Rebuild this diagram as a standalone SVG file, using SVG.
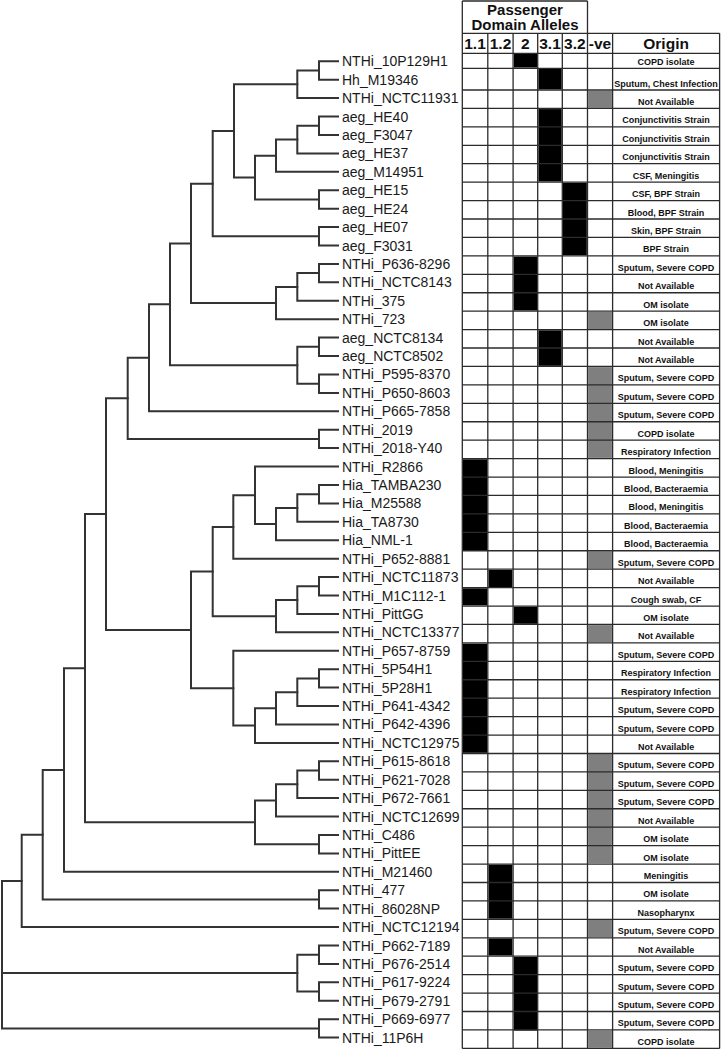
<svg xmlns="http://www.w3.org/2000/svg" width="724" height="1049" viewBox="0 0 724 1049">
<style>
.br{fill:none;stroke:#333;stroke-width:2;stroke-linecap:square;stroke-linejoin:miter}
.lb{font-family:"Liberation Sans",Arial,sans-serif;font-size:14px;fill:#1a1a1a}
.og{font-family:"Liberation Sans",Arial,sans-serif;font-size:9px;font-weight:bold;fill:#111;text-anchor:middle}
.hd{font-family:"Liberation Sans",Arial,sans-serif;font-size:15px;font-weight:bold;fill:#111;text-anchor:middle}
.ch{font-family:"Liberation Sans",Arial,sans-serif;font-size:15.5px;font-weight:bold;fill:#111;text-anchor:middle}
.gl{fill:none;stroke:#2b2b2b;stroke-width:1.3}
.k{fill:#000}
.g{fill:#7f7f7f}
</style>
<rect width="724" height="1049" fill="#fff"/>
<g id="connectors">
<path class="br" d="M338 61.3 H319 V79.7 H338"/>
<path class="br" d="M319 70.5 H297.3 V98.1 H338"/>
<path class="br" d="M338 116.6 H319 V135 H338"/>
<path class="br" d="M319 125.8 H297.3 V153.4 H338"/>
<path class="br" d="M297.3 139.6 H276 V171.8 H338"/>
<path class="br" d="M338 190.2 H319 V208.7 H338"/>
<path class="br" d="M276 155.7 H255 V199.45 H319"/>
<path class="br" d="M297.3 84.3 H234 V177.6 H255"/>
<path class="br" d="M338 227.1 H319 V245.5 H338"/>
<path class="br" d="M234 131 H212.7 V236.3 H319"/>
<path class="br" d="M338 263.9 H319 V282.3 H338"/>
<path class="br" d="M319 273.1 H297.3 V300.8 H338"/>
<path class="br" d="M297.3 286.95 H276 V319.2 H338"/>
<path class="br" d="M212.7 183.65 H191 V303.1 H276"/>
<path class="br" d="M338 337.6 H319 V356 H338"/>
<path class="br" d="M338 374.4 H319 V392.9 H338"/>
<path class="br" d="M319 346.8 H297.3 V383.65 H319"/>
<path class="br" d="M191 243.4 H170 V365.2 H297.3"/>
<path class="br" d="M170 304.3 H149 V411.3 H338"/>
<path class="br" d="M338 429.7 H319 V448.1 H338"/>
<path class="br" d="M149 357.8 H127.7 V438.9 H319"/>
<path class="br" d="M338 485 H319 V503.4 H338"/>
<path class="br" d="M319 494.2 H297.3 V521.8 H338"/>
<path class="br" d="M297.3 508 H276 V540.2 H338"/>
<path class="br" d="M338 466.6 H255 V524.1 H276"/>
<path class="br" d="M255 495.35 H233.3 V558.7 H338"/>
<path class="br" d="M338 577.1 H319 V595.5 H338"/>
<path class="br" d="M319 586.3 H297.3 V613.9 H338"/>
<path class="br" d="M297.3 600.1 H276 V632.3 H338"/>
<path class="br" d="M233.3 527 H212.7 V616.2 H276"/>
<path class="br" d="M338 669.2 H319 V687.6 H338"/>
<path class="br" d="M319 678.4 H297.3 V706 H338"/>
<path class="br" d="M297.3 692.2 H276 V724.4 H338"/>
<path class="br" d="M276 708.3 H255 V742.9 H338"/>
<path class="br" d="M338 650.8 H233.3 V725.6 H255"/>
<path class="br" d="M212.7 571.6 H191 V688.2 H233.3"/>
<path class="br" d="M127.7 398.35 H106 V629.9 H191"/>
<path class="br" d="M338 761.3 H319 V779.7 H338"/>
<path class="br" d="M319 770.5 H297.3 V798.1 H338"/>
<path class="br" d="M297.3 784.3 H276 V816.5 H338"/>
<path class="br" d="M338 835 H319 V853.4 H338"/>
<path class="br" d="M276 800.4 H255 V844.2 H319"/>
<path class="br" d="M106 514.1 H85 V822.3 H255"/>
<path class="br" d="M85 668.2 H64 V871.8 H338"/>
<path class="br" d="M338 890.2 H319 V908.6 H338"/>
<path class="br" d="M64 770 H42.7 V899.4 H319"/>
<path class="br" d="M42.7 834.7 H21.7 V927.1 H338"/>
<path class="br" d="M338 945.5 H319 V963.9 H338"/>
<path class="br" d="M338 982.3 H319 V1000.7 H338"/>
<path class="br" d="M319 954.7 H297.3 V991.5 H319"/>
<path class="br" d="M338 1019.2 H319 V1037.6 H338"/>
<path class="br" d="M21.7 880.9 H2 V1028.4 H319 M2 973.1 H297.3"/>
</g>
<g id="fills">
<rect class="k" x="514" y="54" width="23" height="13.6"/>
<rect class="k" x="514" y="256.5" width="23" height="54"/>
<rect class="k" x="514" y="606.7" width="23" height="17.1"/>
<rect class="k" x="514" y="956.9" width="23" height="73.7"/>
<rect class="k" x="538.4" y="69" width="23.3" height="20.3"/>
<rect class="k" x="538.4" y="109.1" width="23.3" height="72.4"/>
<rect class="k" x="538.4" y="330.3" width="23.3" height="35.5"/>
<rect class="k" x="563" y="182.8" width="23.8" height="72.4"/>
<rect class="k" x="463" y="459.3" width="24.1" height="90.8"/>
<rect class="k" x="463" y="588.3" width="24.1" height="17.1"/>
<rect class="k" x="463" y="643.6" width="24.1" height="109.2"/>
<rect class="k" x="488.5" y="569.9" width="23.9" height="17.1"/>
<rect class="k" x="488.5" y="864.7" width="23.9" height="54"/>
<rect class="k" x="488.5" y="938.4" width="23.9" height="17.1"/>
<rect class="g" x="588.2" y="90.7" width="23.7" height="17.1"/>
<rect class="g" x="588.2" y="311.9" width="23.7" height="17.1"/>
<rect class="g" x="588.2" y="367.1" width="23.7" height="90.8"/>
<rect class="g" x="588.2" y="551.4" width="23.7" height="17.1"/>
<rect class="g" x="588.2" y="625.1" width="23.7" height="17.1"/>
<rect class="g" x="588.2" y="754.1" width="23.7" height="109.2"/>
<rect class="g" x="588.2" y="920" width="23.7" height="17.1"/>
<rect class="g" x="588.2" y="1030.6" width="23.7" height="17.1"/>
</g>
<g id="table-grid">
<path class="gl" d="M462.3 1 H587.5 M462.3 33.3 H719.6 M462.3 1 V1048.4 M587.5 1 V1048.4 M487.8 33.3 V1048.4 M513.1 33.3 V1048.4 M537.7 33.3 V1048.4 M562.3 33.3 V1048.4 M612.6 33.3 V1048.4 M719.6 33.3 V1048.4"/>
<path class="gl" d="M462.3 53.3 H719.6 M462.3 68.3 H719.6 M462.3 90 H719.6 M462.3 108.43 H719.6 M462.3 126.86 H719.6 M462.3 145.29 H719.6 M462.3 163.72 H719.6 M462.3 182.15 H719.6 M462.3 200.58 H719.6 M462.3 219.01 H719.6 M462.3 237.44 H719.6 M462.3 255.87 H719.6 M462.3 274.3 H719.6 M462.3 292.73 H719.6 M462.3 311.16 H719.6 M462.3 329.59 H719.6 M462.3 348.02 H719.6 M462.3 366.45 H719.6 M462.3 384.88 H719.6 M462.3 403.31 H719.6 M462.3 421.74 H719.6 M462.3 440.17 H719.6 M462.3 458.6 H719.6 M462.3 477.03 H719.6 M462.3 495.46 H719.6 M462.3 513.89 H719.6 M462.3 532.32 H719.6 M462.3 550.75 H719.6 M462.3 569.18 H719.6 M462.3 587.61 H719.6 M462.3 606.04 H719.6 M462.3 624.47 H719.6 M462.3 642.9 H719.6 M462.3 661.33 H719.6 M462.3 679.76 H719.6 M462.3 698.19 H719.6 M462.3 716.62 H719.6 M462.3 735.05 H719.6 M462.3 753.48 H719.6 M462.3 771.91 H719.6 M462.3 790.34 H719.6 M462.3 808.77 H719.6 M462.3 827.2 H719.6 M462.3 845.63 H719.6 M462.3 864.06 H719.6 M462.3 882.49 H719.6 M462.3 900.92 H719.6 M462.3 919.35 H719.6 M462.3 937.78 H719.6 M462.3 956.21 H719.6 M462.3 974.64 H719.6 M462.3 993.07 H719.6 M462.3 1011.5 H719.6 M462.3 1029.93 H719.6 M462.3 1048.36 H719.6"/>
</g>
<g id="header">
<text class="hd" x="525" y="14.5">Passenger</text>
<text class="hd" x="525" y="30.2">Domain Alleles</text>
<text class="ch" x="475" y="49">1.1</text>
<text class="ch" x="500.5" y="49">1.2</text>
<text class="ch" x="525.4" y="49">2</text>
<text class="ch" x="550" y="49">3.1</text>
<text class="ch" x="574.9" y="49">3.2</text>
<text class="ch" x="600" y="49">-ve</text>
<text class="ch" x="666.1" y="49">Origin</text>
</g>
<g id="r01"><text class="lb" x="342" y="66.3">NTHi_10P129H1</text><text class="og" x="666.1" y="64.8">COPD isolate</text></g>
<g id="r02"><text class="lb" x="342" y="84.7">Hh_M19346</text><text class="og" x="666.1" y="86.5">Sputum, Chest Infection</text></g>
<g id="r03"><text class="lb" x="342" y="103.1">NTHi_NCTC11931</text><text class="og" x="666.1" y="104.9">Not Available</text></g>
<g id="r04"><text class="lb" x="342" y="121.6">aeg_HE40</text><text class="og" x="666.1" y="123.4">Conjunctivitis Strain</text></g>
<g id="r05"><text class="lb" x="342" y="140">aeg_F3047</text><text class="og" x="666.1" y="141.8">Conjunctivitis Strain</text></g>
<g id="r06"><text class="lb" x="342" y="158.4">aeg_HE37</text><text class="og" x="666.1" y="160.2">Conjunctivitis Strain</text></g>
<g id="r07"><text class="lb" x="342" y="176.8">aeg_M14951</text><text class="og" x="666.1" y="178.7">CSF, Meningitis</text></g>
<g id="r08"><text class="lb" x="342" y="195.2">aeg_HE15</text><text class="og" x="666.1" y="197.1">CSF, BPF Strain</text></g>
<g id="r09"><text class="lb" x="342" y="213.7">aeg_HE24</text><text class="og" x="666.1" y="215.5">Blood, BPF Strain</text></g>
<g id="r10"><text class="lb" x="342" y="232.1">aeg_HE07</text><text class="og" x="666.1" y="233.9">Skin, BPF Strain</text></g>
<g id="r11"><text class="lb" x="342" y="250.5">aeg_F3031</text><text class="og" x="666.1" y="252.4">BPF Strain</text></g>
<g id="r12"><text class="lb" x="342" y="268.9">NTHi_P636-8296</text><text class="og" x="666.1" y="270.8">Sputum, Severe COPD</text></g>
<g id="r13"><text class="lb" x="342" y="287.3">NTHi_NCTC8143</text><text class="og" x="666.1" y="289.2">Not Available</text></g>
<g id="r14"><text class="lb" x="342" y="305.8">NTHi_375</text><text class="og" x="666.1" y="307.7">OM isolate</text></g>
<g id="r15"><text class="lb" x="342" y="324.2">NTHi_723</text><text class="og" x="666.1" y="326.1">OM isolate</text></g>
<g id="r16"><text class="lb" x="342" y="342.6">aeg_NCTC8134</text><text class="og" x="666.1" y="344.5">Not Available</text></g>
<g id="r17"><text class="lb" x="342" y="361">aeg_NCTC8502</text><text class="og" x="666.1" y="362.9">Not Available</text></g>
<g id="r18"><text class="lb" x="342" y="379.4">NTHi_P595-8370</text><text class="og" x="666.1" y="381.4">Sputum, Severe COPD</text></g>
<g id="r19"><text class="lb" x="342" y="397.9">NTHi_P650-8603</text><text class="og" x="666.1" y="399.8">Sputum, Severe COPD</text></g>
<g id="r20"><text class="lb" x="342" y="416.3">NTHi_P665-7858</text><text class="og" x="666.1" y="418.2">Sputum, Severe COPD</text></g>
<g id="r21"><text class="lb" x="342" y="434.7">NTHi_2019</text><text class="og" x="666.1" y="436.7">COPD isolate</text></g>
<g id="r22"><text class="lb" x="342" y="453.1">NTHi_2018-Y40</text><text class="og" x="666.1" y="455.1">Respiratory Infection</text></g>
<g id="r23"><text class="lb" x="342" y="471.6">NTHi_R2866</text><text class="og" x="666.1" y="473.5">Blood, Meningitis</text></g>
<g id="r24"><text class="lb" x="342" y="490">Hia_TAMBA230</text><text class="og" x="666.1" y="492">Blood, Bacteraemia</text></g>
<g id="r25"><text class="lb" x="342" y="508.4">Hia_M25588</text><text class="og" x="666.1" y="510.4">Blood, Meningitis</text></g>
<g id="r26"><text class="lb" x="342" y="526.8">Hia_TA8730</text><text class="og" x="666.1" y="528.8">Blood, Bacteraemia</text></g>
<g id="r27"><text class="lb" x="342" y="545.2">Hia_NML-1</text><text class="og" x="666.1" y="547.3">Blood, Bacteraemia</text></g>
<g id="r28"><text class="lb" x="342" y="563.7">NTHi_P652-8881</text><text class="og" x="666.1" y="565.7">Sputum, Severe COPD</text></g>
<g id="r29"><text class="lb" x="342" y="582.1">NTHi_NCTC11873</text><text class="og" x="666.1" y="584.1">Not Available</text></g>
<g id="r30"><text class="lb" x="342" y="600.5">NTHi_M1C112-1</text><text class="og" x="666.1" y="602.5">Cough swab, CF</text></g>
<g id="r31"><text class="lb" x="342" y="618.9">NTHi_PittGG</text><text class="og" x="666.1" y="621">OM isolate</text></g>
<g id="r32"><text class="lb" x="342" y="637.3">NTHi_NCTC13377</text><text class="og" x="666.1" y="639.4">Not Available</text></g>
<g id="r33"><text class="lb" x="342" y="655.8">NTHi_P657-8759</text><text class="og" x="666.1" y="657.8">Sputum, Severe COPD</text></g>
<g id="r34"><text class="lb" x="342" y="674.2">NTHi_5P54H1</text><text class="og" x="666.1" y="676.3">Respiratory Infection</text></g>
<g id="r35"><text class="lb" x="342" y="692.6">NTHi_5P28H1</text><text class="og" x="666.1" y="694.7">Respiratory Infection</text></g>
<g id="r36"><text class="lb" x="342" y="711">NTHi_P641-4342</text><text class="og" x="666.1" y="713.1">Sputum, Severe COPD</text></g>
<g id="r37"><text class="lb" x="342" y="729.4">NTHi_P642-4396</text><text class="og" x="666.1" y="731.5">Sputum, Severe COPD</text></g>
<g id="r38"><text class="lb" x="342" y="747.9">NTHi_NCTC12975</text><text class="og" x="666.1" y="750">Not Available</text></g>
<g id="r39"><text class="lb" x="342" y="766.3">NTHi_P615-8618</text><text class="og" x="666.1" y="768.4">Sputum, Severe COPD</text></g>
<g id="r40"><text class="lb" x="342" y="784.7">NTHi_P621-7028</text><text class="og" x="666.1" y="786.8">Sputum, Severe COPD</text></g>
<g id="r41"><text class="lb" x="342" y="803.1">NTHi_P672-7661</text><text class="og" x="666.1" y="805.3">Sputum, Severe COPD</text></g>
<g id="r42"><text class="lb" x="342" y="821.5">NTHi_NCTC12699</text><text class="og" x="666.1" y="823.7">Not Available</text></g>
<g id="r43"><text class="lb" x="342" y="840">NTHi_C486</text><text class="og" x="666.1" y="842.1">OM isolate</text></g>
<g id="r44"><text class="lb" x="342" y="858.4">NTHi_PittEE</text><text class="og" x="666.1" y="860.6">OM isolate</text></g>
<g id="r45"><text class="lb" x="342" y="876.8">NTHi_M21460</text><text class="og" x="666.1" y="879">Meningitis</text></g>
<g id="r46"><text class="lb" x="342" y="895.2">NTHi_477</text><text class="og" x="666.1" y="897.4">OM isolate</text></g>
<g id="r47"><text class="lb" x="342" y="913.6">NTHi_86028NP</text><text class="og" x="666.1" y="915.9">Nasopharynx</text></g>
<g id="r48"><text class="lb" x="342" y="932.1">NTHi_NCTC12194</text><text class="og" x="666.1" y="934.3">Sputum, Severe COPD</text></g>
<g id="r49"><text class="lb" x="342" y="950.5">NTHi_P662-7189</text><text class="og" x="666.1" y="952.7">Not Available</text></g>
<g id="r50"><text class="lb" x="342" y="968.9">NTHi_P676-2514</text><text class="og" x="666.1" y="971.1">Sputum, Severe COPD</text></g>
<g id="r51"><text class="lb" x="342" y="987.3">NTHi_P617-9224</text><text class="og" x="666.1" y="989.6">Sputum, Severe COPD</text></g>
<g id="r52"><text class="lb" x="342" y="1005.7">NTHi_P679-2791</text><text class="og" x="666.1" y="1008">Sputum, Severe COPD</text></g>
<g id="r53"><text class="lb" x="342" y="1024.2">NTHi_P669-6977</text><text class="og" x="666.1" y="1026.4">Sputum, Severe COPD</text></g>
<g id="r54"><text class="lb" x="342" y="1042.6">NTHi_11P6H</text><text class="og" x="666.1" y="1044.9">COPD isolate</text></g>
</svg>
